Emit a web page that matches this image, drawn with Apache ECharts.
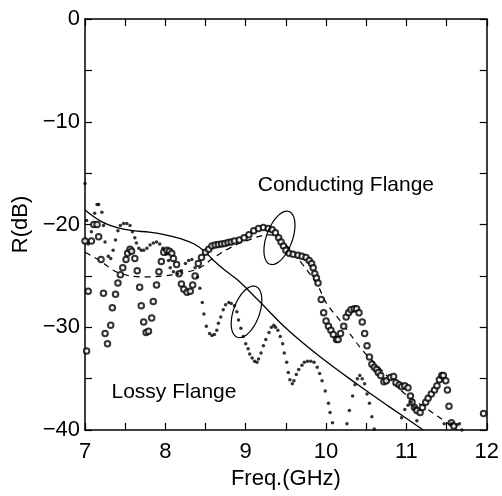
<!DOCTYPE html>
<html>
<head>
<meta charset="utf-8">
<script src="https://cdn.jsdelivr.net/npm/echarts@6/dist/echarts.min.js"></script>
<style>html,body{margin:0;padding:0;background:#fff}#c{width:502px;height:496px}</style>
</head>
<body>
<div id="c"></div>
<script>
// Conducting flange measurement (open circles): [freq GHz, R dB]
var conductingFreq = [7.00,7.02,7.04,7.08,7.11,7.15,7.17,7.20,7.23,7.25,7.28,7.32,7.34,7.38,7.41,7.44,7.47,7.51,7.53,7.56,7.58,7.62,7.65,7.68,7.70,7.73,7.76,7.79,7.83,7.85,7.89,7.92,7.95,7.98,8.02,8.05,8.08,8.10,8.14,8.17,8.20,8.23,8.27,8.31,8.34,8.37,8.41,8.45,8.50,8.54,8.58,8.62,8.66,8.70,8.74,8.78,8.82,8.86,8.92,8.98,9.04,9.10,9.16,9.22,9.28,9.33,9.37,9.41,9.44,9.47,9.50,9.54,9.59,9.65,9.70,9.75,9.79,9.82,9.84,9.86,9.88,9.90,9.94,9.97,10.00,10.03,10.06,10.09,10.13,10.15,10.18,10.22,10.25,10.28,10.31,10.35,10.38,10.41,10.45,10.48,10.51,10.54,10.57,10.60,10.63,10.65,10.68,10.72,10.75,10.80,10.84,10.87,10.91,10.94,10.98,11.02,11.05,11.07,11.10,11.13,11.17,11.20,11.24,11.27,11.31,11.35,11.38,11.41,11.44,11.46,11.49,11.51,11.53,11.56,11.59,11.96];
var conductingR = [-21.6,-32.3,-26.5,-21.6,-20.0,-20.0,-21.2,-23.4,-26.7,-30.6,-31.6,-29.8,-28.1,-26.8,-25.7,-24.9,-24.2,-23.4,-22.8,-22.4,-22.6,-23.3,-24.5,-26.1,-27.9,-29.5,-30.5,-30.4,-29.1,-27.5,-25.9,-24.6,-23.6,-22.7,-22.5,-22.6,-22.8,-23.3,-23.9,-24.8,-25.8,-26.3,-26.6,-26.5,-25.9,-25.0,-23.8,-23.2,-22.7,-22.4,-22.1,-22.0,-21.95,-21.9,-21.85,-21.75,-21.7,-21.6,-21.5,-21.3,-21.0,-20.6,-20.4,-20.3,-20.4,-20.5,-20.8,-21.3,-21.7,-22.1,-22.5,-22.8,-22.9,-23.0,-23.1,-23.2,-23.5,-23.8,-24.2,-24.8,-25.2,-25.7,-27.3,-28.6,-29.4,-29.9,-30.3,-30.7,-31.2,-31.2,-30.6,-29.9,-29.0,-28.6,-28.3,-28.2,-28.2,-28.6,-29.5,-30.6,-31.8,-32.9,-33.6,-33.9,-34.1,-34.4,-34.7,-35.3,-35.2,-34.9,-34.8,-35.4,-35.6,-35.8,-35.7,-35.9,-36.7,-37.3,-37.8,-38.1,-38.3,-37.8,-37.3,-36.9,-36.5,-36.1,-35.7,-35.1,-34.7,-34.7,-35.2,-36.1,-37.7,-39.3,-39.6,-38.4];

// Lossy flange measurement (dots)
var lossyFreq = [7.00,7.02,7.04,7.08,7.12,7.15,7.17,7.21,7.23,7.25,7.29,7.32,7.35,7.38,7.41,7.44,7.48,7.52,7.56,7.59,7.62,7.64,7.67,7.70,7.73,7.77,7.81,7.85,7.89,7.93,7.97,8.01,8.04,8.06,8.10,8.15,8.20,8.25,8.29,8.33,8.37,8.40,8.43,8.46,8.48,8.51,8.55,8.58,8.61,8.64,8.66,8.69,8.72,8.75,8.79,8.82,8.86,8.89,8.91,8.94,8.97,9.00,9.03,9.05,9.08,9.11,9.14,9.16,9.19,9.22,9.25,9.29,9.32,9.35,9.37,9.40,9.43,9.46,9.48,9.51,9.53,9.55,9.58,9.60,9.63,9.66,9.70,9.73,9.77,9.81,9.85,9.89,9.92,9.95,9.99,10.03,10.05,10.08,10.26,10.29,10.33,10.36,10.39,10.42,10.45,10.48,10.51,10.54,10.57,10.60,10.94,10.98,11.02,11.06,11.10,11.13,11.47,11.56,11.63,11.66,11.69];
var lossyR = [-16.0,-19.6,-21.9,-20.7,-18.9,-18.05,-18.05,-18.8,-20.1,-21.7,-23.1,-23.3,-22.5,-21.5,-20.6,-20.1,-19.9,-19.9,-20.1,-20.7,-21.3,-21.8,-22.3,-22.5,-22.5,-22.3,-22.0,-21.8,-21.7,-21.9,-22.3,-22.9,-23.5,-24.2,-24.6,-24.8,-24.5,-23.8,-23.5,-23.4,-24.2,-25.1,-26.2,-27.6,-28.7,-29.9,-30.6,-30.8,-30.7,-30.3,-29.6,-29.0,-28.3,-27.8,-27.6,-27.7,-27.9,-28.5,-29.3,-30.1,-30.9,-31.6,-32.1,-32.6,-33.0,-33.3,-33.4,-33.1,-32.5,-31.8,-31.2,-30.5,-30.0,-29.8,-30.0,-30.3,-30.9,-31.6,-32.5,-33.4,-34.4,-35.1,-35.5,-35.2,-34.6,-34.1,-33.7,-33.4,-33.3,-33.3,-33.4,-33.9,-34.5,-35.2,-36.2,-37.4,-38.3,-39.3,-39.4,-38.1,-36.7,-35.6,-35.0,-34.7,-35.0,-35.5,-36.5,-37.4,-38.7,-39.9,-38.8,-38.0,-37.6,-37.3,-37.8,-39.1,-39.4,-39.4,-39.5,-39.4,-40.0];

// Theory curves
var solidFreq = [7.0,7.2,7.4,7.6,7.8,8.0,8.2,8.36,8.5,8.6,8.75,8.9,9.16,9.53,9.93,10.38,10.78,11.21];
var solidR = [-18.6,-19.7,-20.3,-20.6,-20.75,-21.0,-21.4,-21.9,-22.7,-23.5,-24.5,-25.4,-27.4,-30.3,-32.9,-35.5,-37.7,-40.0];
var dashedFreq = [7.0,7.18,7.42,7.75,7.99,8.23,8.43,8.59,8.8,9.0,9.3,9.5,9.7,9.9,10.0,10.18,10.46,10.66,10.94,11.23,11.47,11.63];
var dashedR = [-22.7,-23.5,-24.7,-25.1,-25.0,-24.7,-24.2,-23.3,-22.3,-21.6,-21.0,-22.0,-23.8,-26.0,-27.6,-29.4,-32.3,-33.9,-36.2,-37.8,-39.1,-40.0];

var xTicks = [7,8,9,10,11,12];
var yTicks = [0,-10,-20,-30,-40];

function zip(a,b){return a.map(function(v,i){return [v,b[i]];});}

var FONT = 'Liberation Sans';
var chart = echarts.init(document.getElementById('c'), null, {renderer:'canvas'});
var axBase = {
  axisLine:{show:true, onZero:false, lineStyle:{color:'#000', width:1.5}},
  axisTick:{show:true, inside:true, length:7, lineStyle:{color:'#000', width:1.2}},
  splitLine:{show:false}
};
function minus(v){return String(v).replace('-', '\u2212');}
chart.setOption({
  animation:false,
  backgroundColor:'#fff',
  grid:{left:85, right:5, top:19, bottom:66, containLabel:false},
  xAxis:[
    Object.assign({}, axBase, {type:'value', position:'bottom', min:7, max:12, interval:0.5,
      name:'Freq.(GHz)', nameLocation:'middle', nameGap:37,
      nameTextStyle:{color:'#000', fontFamily:FONT, fontSize:22},
      axisLabel:{color:'#000', fontFamily:FONT, fontSize:22, margin:11,
        formatter:function(v){return xTicks.indexOf(v)>=0 ? String(v) : '';}}}),
    Object.assign({}, axBase, {type:'value', position:'top', min:7, max:12, interval:0.5,
      axisLabel:{show:false}})
  ],
  yAxis:[
    Object.assign({}, axBase, {type:'value', position:'left', min:-40, max:0, interval:5,
      name:'R(dB)', nameLocation:'middle', nameGap:52,
      nameTextStyle:{color:'#000', fontFamily:FONT, fontSize:22},
      axisLabel:{color:'#000', fontFamily:FONT, fontSize:22, margin:5,
        formatter:function(v){return yTicks.indexOf(v)>=0 ? minus(v) : '';}}}),
    Object.assign({}, axBase, {type:'value', position:'right', min:-40, max:0, interval:5,
      axisLabel:{show:false}})
  ],
  series:[
    {type:'line', data:zip(solidFreq, solidR), smooth:0.4, showSymbol:false, symbol:'none',
     lineStyle:{color:'#000', width:1.3}, z:2},
    {type:'line', data:zip(dashedFreq, dashedR), smooth:0.4, showSymbol:false, symbol:'none',
     lineStyle:{color:'#000', width:1.2, type:[6,5]}, z:2},
    {type:'scatter', data:zip(conductingFreq, conductingR), symbol:'emptyCircle', symbolSize:5.5,
     itemStyle:{color:'#000', borderColor:'#000', borderWidth:1.1}, z:3},
    {type:'scatter', data:zip(lossyFreq, lossyR), symbol:'circle', symbolSize:3.5,
     itemStyle:{color:'#000'}, z:3}
  ]
});

// Annotations placed via data coordinates
var annTexts = [
  {text:'Conducting Flange', at:[9.15, -16.2]},
  {text:'Lossy Flange', at:[7.33, -36.3]}
];
var annEllipses = [
  {center:[9.42, -21.3], a:28, b:13, rot:70},
  {center:[9.01, -28.5], a:27, b:13, rot:70}
];
function ellipsePts(c, a, b, rotDeg){
  var p = chart.convertToPixel({gridIndex:0}, c), r = rotDeg*Math.PI/180, pts=[];
  for (var i=0;i<=72;i++){
    var t = i/72*2*Math.PI, ex = a*Math.cos(t), ey = b*Math.sin(t);
    pts.push([p[0] + ex*Math.cos(r) + ey*Math.sin(r), p[1] - ex*Math.sin(r) + ey*Math.cos(r)]);
  }
  return pts;
}
var g = [];
annTexts.forEach(function(t){
  var p = chart.convertToPixel({gridIndex:0}, t.at);
  g.push({type:'text', x:p[0], y:p[1], style:{text:t.text, fill:'#000', font:'21px "'+FONT+'"', textVerticalAlign:'middle', textAlign:'left'}, z:10});
});
annEllipses.forEach(function(e){
  g.push({type:'polyline', shape:{points:ellipsePts(e.center, e.a, e.b, e.rot)}, style:{stroke:'#000', lineWidth:1.2, fill:null}, z:10});
});
chart.setOption({graphic:g});
</script>
</body>
</html>
